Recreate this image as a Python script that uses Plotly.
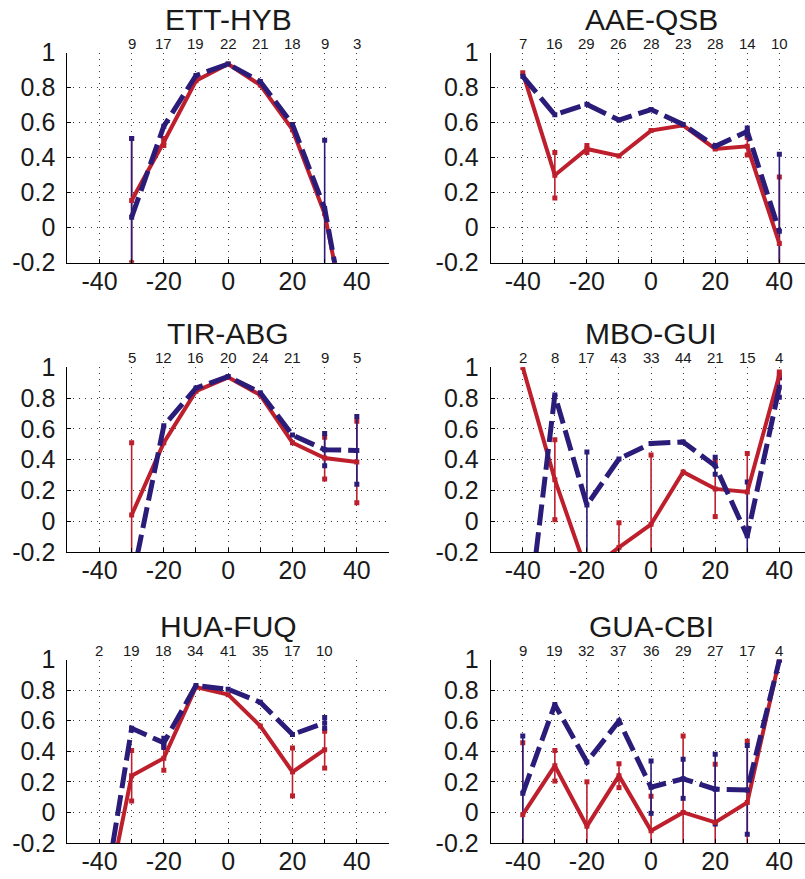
import plotly.graph_objects as go

# ---- data -------------------------------------------------------------
titles = ["ETT-HYB", "AAE-QSB", "TIR-ABG", "MBO-GUI", "HUA-FUQ", "GUA-CBI"]

x_ett = [-30, -20, -10, 0, 10, 20, 30, 40]
n_ett = [9, 17, 19, 22, 21, 18, 9, 3]
red_ett = [0.155, 0.49, 0.84, 0.935, 0.815, 0.56, 0.08, -0.85]
red_ett_err = [0.355, 0.02, 0, 0, 0, 0, 0, 0]
blue_ett = [0.06, 0.58, 0.87, 0.935, 0.835, 0.59, 0.11, -0.89]
blue_ett_err = [0.45, 0, 0, 0, 0, 0, 0.39, 0]

x_aae = [-40, -30, -20, -10, 0, 10, 20, 30, 40]
n_aae = [7, 16, 29, 26, 28, 23, 28, 14, 10]
red_aae = [0.885, 0.30, 0.45, 0.41, 0.555, 0.585, 0.45, 0.465, -0.09]
red_aae_err = [0, 0.13, 0.02, 0, 0, 0, 0, 0.05, 0.38]
blue_aae = [0.865, 0.645, 0.705, 0.615, 0.675, 0.59, 0.465, 0.55, -0.02]
blue_aae_err = [0, 0, 0, 0, 0, 0, 0, 0.02, 0.44]

x_tir = [-30, -20, -10, 0, 10, 20, 30, 40]
n_tir = [5, 12, 16, 20, 24, 21, 9, 5]
red_tir = [0.04, 0.51, 0.845, 0.935, 0.82, 0.51, 0.41, 0.385]
red_tir_err = [0.47, 0, 0, 0, 0, 0, 0.135, 0.265]
blue_tir = [-0.40, 0.62, 0.865, 0.94, 0.835, 0.56, 0.465, 0.46]
blue_tir_err = [0, 0, 0, 0, 0, 0, 0.105, 0.22]

x_mbo = [-40, -30, -20, -10, 0, 10, 20, 30, 40]
n_mbo = [2, 8, 17, 43, 33, 44, 21, 15, 4]
red_mbo = [1.0, 0.27, -0.33, -0.17, -0.02, 0.32, 0.21, 0.19, 0.95]
red_mbo_err = [0, 0.26, 0, 0.16, 0.45, 0, 0.18, 0.25, 0.02]
blue_mbo = [-0.93, 0.82, 0.105, 0.405, 0.505, 0.515, 0.36, -0.095, 0.87]
blue_mbo_err = [0, 0, 0.345, 0, 0, 0, 0.055, 0.35, 0.065]

x_hua = [-40, -30, -20, -10, 0, 10, 20, 30]
n_hua = [2, 19, 18, 34, 41, 35, 17, 10]
red_hua = [-0.80, 0.24, 0.355, 0.82, 0.77, 0.565, 0.265, 0.41]
red_hua_err = [0, 0.165, 0.08, 0, 0, 0, 0.157, 0.12]
blue_hua = [-0.745, 0.55, 0.455, 0.83, 0.805, 0.72, 0.51, 0.585]
blue_hua_err = [0, 0, 0.03, 0, 0, 0, 0, 0.035]

x_gua = [-40, -30, -20, -10, 0, 10, 20, 30, 40]
n_gua = [9, 19, 32, 37, 36, 29, 27, 17, 4]
red_gua = [-0.015, 0.305, -0.09, 0.24, -0.12, 0.0, -0.065, 0.065, 1.0]
red_gua_err = [0.47, 0.1, 0.29, 0.078, 0.226, 0.5, 0.38, 0.40, 0]
blue_gua = [0.125, 0.705, 0.33, 0.598, 0.165, 0.22, 0.152, 0.147, 0.995]
blue_gua_err = [0.375, 0, 0, 0, 0.171, 0.128, 0.228, 0.29, 0]

panels = [
    (x_ett, n_ett, red_ett, red_ett_err, blue_ett, blue_ett_err),
    (x_aae, n_aae, red_aae, red_aae_err, blue_aae, blue_aae_err),
    (x_tir, n_tir, red_tir, red_tir_err, blue_tir, blue_tir_err),
    (x_mbo, n_mbo, red_mbo, red_mbo_err, blue_mbo, blue_mbo_err),
    (x_hua, n_hua, red_hua, red_hua_err, blue_hua, blue_hua_err),
    (x_gua, n_gua, red_gua, red_gua_err, blue_gua, blue_gua_err),
]

x_ticks = [-50, -40, -30, -20, -10, 0, 10, 20, 30, 40, 50]
x_labels = ["", "-40", "", "-20", "", "0", "", "20", "", "40", ""]
y_ticks = [-0.2, 0, 0.2, 0.4, 0.6, 0.8, 1.0]
y_labels = ["-0.2", "0", "0.2", "0.4", "0.6", "0.8", "1"]

# ---- styling ----------------------------------------------------------
W, H = 805, 879
RED = "#BE1F2C"
BLUE = "#2A1C78"
FONT = "Liberation Sans, Arial, Helvetica, sans-serif"

# subplot frames in pixels: (left, right, top, bottom)
col_px = [(67.3, 389.0), (490.7, 805.0)]
row_px = [(52.7, 262.7), (367.3, 552.0), (659.5, 843.0)]
x_ranges = [[-50, 50], [-50, 48]]

fig = go.Figure()


def err_segments(xv, yv, ev):
    sx, sy, ex, ey = [], [], [], []
    for xi, yi, ei in zip(xv, yv, ev):
        if ei > 0:
            sx += [xi, xi, None]
            sy += [yi - ei, yi + ei, None]
            ex += [xi, xi]
            ey += [yi - ei, yi + ei]
    return sx, sy, ex, ey


for k, (xv, nv, rv, re, bv, be) in enumerate(panels):
    r, c = divmod(k, 2)
    xa = "x" if k == 0 else f"x{k + 1}"
    ya = "y" if k == 0 else f"y{k + 1}"

    # error bars: red first, blue drawn over it
    for yv, ev, col in ((rv, re, RED), (bv, be, BLUE)):
        sx, sy, ex, ey = err_segments(xv, yv, ev)
        fig.add_trace(go.Scatter(x=sx, y=sy, mode="lines", xaxis=xa, yaxis=ya,
                                 line=dict(color=col, width=1.6),
                                 showlegend=False, hoverinfo="skip"))
        fig.add_trace(go.Scatter(x=ex, y=ey, mode="markers", xaxis=xa, yaxis=ya,
                                 marker=dict(symbol="square", size=5, color=col),
                                 showlegend=False, hoverinfo="skip"))

    fig.add_trace(go.Scatter(x=xv, y=rv, mode="lines+markers", xaxis=xa, yaxis=ya,
                             line=dict(color=RED, width=4),
                             marker=dict(symbol="square", size=5, color=RED),
                             showlegend=False))
    fig.add_trace(go.Scatter(x=xv, y=bv, mode="lines+markers", xaxis=xa, yaxis=ya,
                             line=dict(color=BLUE, width=5, dash="21px,7px"),
                             marker=dict(symbol="square", size=5, color=BLUE),
                             showlegend=False))

    left, right = col_px[c]
    top, bottom = row_px[r]
    axis_common = dict(
        showline=True, linecolor="black", linewidth=1, mirror=False,
        showgrid=True, gridcolor="#3a3a3a", gridwidth=1, griddash="1px,5px",
        zeroline=False, ticks="inside", ticklen=4, tickcolor="black",
        tickfont=dict(family=FONT, size=25, color="#1a1a1a"),
        automargin=False,
    )
    fig.layout[f"xaxis{'' if k == 0 else k + 1}"] = dict(
        axis_common, domain=[left / W, right / W], range=x_ranges[c],
        tickvals=x_ticks, ticktext=x_labels, anchor=ya, ticklabelstandoff=-4,
    )
    fig.layout[f"yaxis{'' if k == 0 else k + 1}"] = dict(
        axis_common, domain=[1 - bottom / H, 1 - top / H], range=[-0.2, 1.0],
        tickvals=y_ticks, ticktext=y_labels, anchor=xa, ticklabelstandoff=6,
    )

    # panel title
    fig.add_annotation(text=titles[k], xref=xa, yref=f"{ya} domain", x=0, y=1,
                       yanchor="bottom", yshift=15, showarrow=False,
                       font=dict(family=FONT, size=30, color="#1a1a1a"))
    # sample counts above each column of points
    for xi, ni in zip(xv, nv):
        fig.add_annotation(text=str(ni), xref=xa, yref=f"{ya} domain", x=xi, y=1,
                           yanchor="bottom", yshift=-1, showarrow=False,
                           font=dict(family=FONT, size=15, color="#1a1a1a"))

fig.update_layout(
    width=W, height=H, margin=dict(l=0, r=0, t=0, b=0, autoexpand=False),
    paper_bgcolor="white", plot_bgcolor="white",
)

fig.write_html("out.html")
